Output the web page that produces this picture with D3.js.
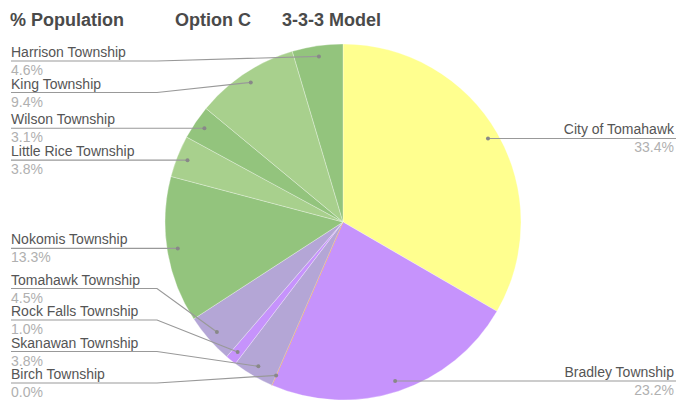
<!DOCTYPE html>
<html>
<head>
<meta charset="utf-8">
<script src="https://cdn.jsdelivr.net/npm/d3@7"></script>
<style>
  body { margin: 0; background: white; }
  text { font-family: "Liberation Sans", Arial, sans-serif; }
</style>
</head>
<body>
<div id="chart"></div>
<script>
var titles = ["% Population", "Option C", "3-3-3 Model"];
var categories = ["City of Tomahawk", "Bradley Township", "Birch Township", "Skanawan Township",
  "Rock Falls Township", "Tomahawk Township", "Nokomis Township", "Little Rice Township",
  "Wilson Township", "King Township", "Harrison Township"];
var values = [33.4, 23.2, 0.0, 3.8, 1.0, 4.5, 13.3, 3.8, 3.1, 9.4, 4.6];
var colors = ["#ffff8f", "#c693fc", "#f0a060", "#b4a6d6", "#c693fc", "#b4a6d6",
  "#93c47d", "#a8d08d", "#93c47d", "#a8d08d", "#93c47d"];

var width = 677, height = 403;
var cx = 343, cy = 222, radius = 178;

var svg = d3.select("#chart").append("svg")
    .attr("width", width)
    .attr("height", height);

svg.append("rect").attr("width", width).attr("height", height).attr("fill", "white");

// title row
var titleX = [10, 175, 282];
svg.selectAll("text.title")
    .data(titles)
    .enter()
    .append("text")
    .attr("class", "title")
    .attr("x", function(d, i) { return titleX[i]; })
    .attr("y", 26)
    .attr("font-size", 18)
    .attr("font-weight", "bold")
    .attr("fill", "#4a4a4a")
    .text(function(d) { return d; });

var data = categories.map(function(c, i) { return { name: c, value: values[i], color: colors[i] }; });

var pie = d3.pie().sort(null).value(function(d) { return d.value; });
var arcs = pie(data);
var arc = d3.arc().innerRadius(0).outerRadius(radius);
var pointArc = d3.arc().innerRadius(radius * 0.94).outerRadius(radius * 0.94);

var g = svg.append("g").attr("transform", "translate(" + cx + "," + cy + ")");

g.selectAll("path")
    .data(arcs)
    .enter()
    .append("path")
    .attr("d", arc)
    .attr("fill", function(d) { return d.data.color; })
    .attr("stroke", function(d) { return d.data.value === 0 ? d.data.color : "rgba(255,255,255,0.5)"; })
    .attr("stroke-width", function(d) { return d.data.value === 0 ? 1 : 0.6; });

// label placement: left and right, stacked with a minimum gap
var gap = 31.5, topY = 61, bottomY = 383;
arcs.forEach(function(d) {
    var p = pointArc.centroid(d);
    d.px = cx + p[0];
    d.py = cy + p[1];
    d.side = (d.startAngle + d.endAngle) / 2 < Math.PI ? "right" : "left";
});

function layout(list) {
    list.sort(function(a, b) { return a.py - b.py; });
    var prev = -Infinity;
    list.forEach(function(d) {
        d.ly = Math.max(d.py, prev + gap, topY);
        prev = d.ly;
    });
    var next = Infinity;
    for (var i = list.length - 1; i >= 0; i--) {
        list[i].ly = Math.min(list[i].ly, next - gap, bottomY);
        next = list[i].ly;
    }
}
var leftSide = arcs.filter(function(d) { return d.side === "left"; });
var rightSide = arcs.filter(function(d) { return d.side === "right"; });
layout(leftSide);
layout(rightSide);

var labels = svg.append("g");
var fs = 14;

leftSide.forEach(function(d) {
    var bendX = 157;
    var pts = [[11, d.ly], [bendX, d.ly], [d.px, d.py]];
    if (Math.abs(d.ly - d.py) < 1) pts = [[11, d.ly], [d.px, d.py]];
    labels.append("path")
        .attr("d", d3.line()(pts))
        .attr("fill", "none")
        .attr("stroke", "#999")
        .attr("stroke-width", 1.2);
    labels.append("circle").attr("cx", d.px).attr("cy", d.py).attr("r", 2).attr("fill", "#888");
    labels.append("text")
        .attr("x", 11).attr("y", d.ly - 4)
        .attr("font-size", fs).attr("fill", "#555")
        .text(d.data.name);
    labels.append("text")
        .attr("x", 11).attr("y", d.ly + 14)
        .attr("font-size", fs).attr("fill", "#b0b0b0")
        .text(d.data.value.toFixed(1) + "%");
});

rightSide.forEach(function(d) {
    var pts = [[d.px, d.py], [d.px + 8, d.ly], [676, d.ly]];
    if (Math.abs(d.ly - d.py) < 1) pts = [[d.px, d.py], [676, d.ly]];
    labels.append("path")
        .attr("d", d3.line()(pts))
        .attr("fill", "none")
        .attr("stroke", "#999")
        .attr("stroke-width", 1.2);
    labels.append("circle").attr("cx", d.px).attr("cy", d.py).attr("r", 2).attr("fill", "#888");
    labels.append("text")
        .attr("x", 674).attr("y", d.ly - 4)
        .attr("text-anchor", "end")
        .attr("font-size", fs).attr("fill", "#555")
        .text(d.data.name);
    labels.append("text")
        .attr("x", 674).attr("y", d.ly + 14)
        .attr("text-anchor", "end")
        .attr("font-size", fs).attr("fill", "#b0b0b0")
        .text(d.data.value.toFixed(1) + "%");
});
</script>
</body>
</html>
